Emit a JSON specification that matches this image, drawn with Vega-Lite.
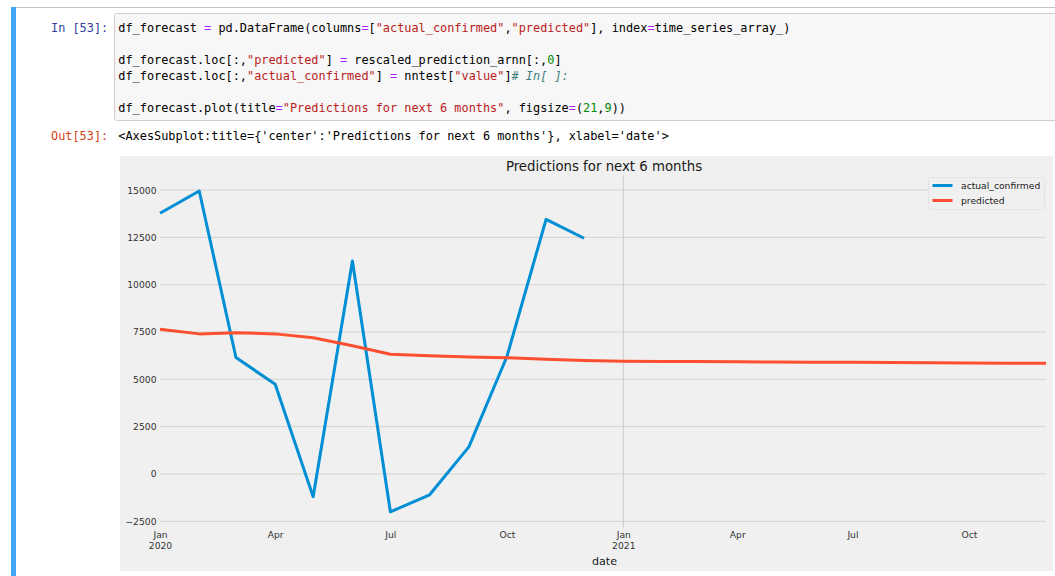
{
  "$schema": "https://vega.github.io/schema/vega-lite/v6.json",
  "background": "white",
  "autosize": {"type": "pad"},
  "padding": {"left": 10, "top": 6, "right": 0, "bottom": 0},
  "columns": 1,
  "spacing": 36,
  "bounds": "flush",
  "center": true,
  "resolve": {"scale": {"x": "independent", "y": "independent", "color": "independent"}, "legend": {"color": "independent"}},
  "config": {"font": "DejaVu Sans"},
  "datasets": {
    "code": [
      {"line": 0, "col": -9.41, "text": "In [53]:", "kind": "in"},
      {"line": 0, "col": 0, "text": "df_forecast", "kind": "plain"},
      {"line": 0, "col": 12, "text": "=", "kind": "op"},
      {"line": 0, "col": 14, "text": "pd.DataFrame(columns", "kind": "plain"},
      {"line": 0, "col": 34, "text": "=", "kind": "op"},
      {"line": 0, "col": 35, "text": "[", "kind": "plain"},
      {"line": 0, "col": 36, "text": "\"actual_confirmed\"", "kind": "str"},
      {"line": 0, "col": 54, "text": ",", "kind": "plain"},
      {"line": 0, "col": 55, "text": "\"predicted\"", "kind": "str"},
      {"line": 0, "col": 66, "text": "], index", "kind": "plain"},
      {"line": 0, "col": 74, "text": "=", "kind": "op"},
      {"line": 0, "col": 75, "text": "time_series_array_)", "kind": "plain"},
      {"line": 2, "col": 0, "text": "df_forecast.loc[:,", "kind": "plain"},
      {"line": 2, "col": 18, "text": "\"predicted\"", "kind": "str"},
      {"line": 2, "col": 29, "text": "]", "kind": "plain"},
      {"line": 2, "col": 31, "text": "=", "kind": "op"},
      {"line": 2, "col": 33, "text": "rescaled_prediction_arnn[:,", "kind": "plain"},
      {"line": 2, "col": 60, "text": "0", "kind": "num"},
      {"line": 2, "col": 61, "text": "]", "kind": "plain"},
      {"line": 3, "col": 0, "text": "df_forecast.loc[:,", "kind": "plain"},
      {"line": 3, "col": 18, "text": "\"actual_confirmed\"", "kind": "str"},
      {"line": 3, "col": 36, "text": "]", "kind": "plain"},
      {"line": 3, "col": 38, "text": "=", "kind": "op"},
      {"line": 3, "col": 40, "text": "nntest[", "kind": "plain"},
      {"line": 3, "col": 47, "text": "\"value\"", "kind": "str"},
      {"line": 3, "col": 54, "text": "]", "kind": "plain"},
      {"line": 3, "col": 55, "text": "# In[ ]:", "kind": "comment"},
      {"line": 5, "col": 0, "text": "df_forecast.plot(title", "kind": "plain"},
      {"line": 5, "col": 22, "text": "=", "kind": "op"},
      {"line": 5, "col": 23, "text": "\"Predictions for next 6 months\"", "kind": "str"},
      {"line": 5, "col": 54, "text": ",", "kind": "plain"},
      {"line": 5, "col": 56, "text": "figsize", "kind": "plain"},
      {"line": 5, "col": 63, "text": "=", "kind": "op"},
      {"line": 5, "col": 64, "text": "(", "kind": "plain"},
      {"line": 5, "col": 65, "text": "21", "kind": "num"},
      {"line": 5, "col": 67, "text": ",", "kind": "plain"},
      {"line": 5, "col": 68, "text": "9", "kind": "num"},
      {"line": 5, "col": 69, "text": "))", "kind": "plain"},
      {"line": 6.706, "col": -9.41, "text": "Out[53]:", "kind": "out"},
      {"line": 6.706, "col": 0, "text": "<AxesSubplot:title={'center':'Predictions for next 6 months'}, xlabel='date'>", "kind": "plain"}
    ],
    "forecast": [
      {"date": "2020-01-01", "series": "actual_confirmed", "value": 13770},
      {"date": "2020-02-01", "series": "actual_confirmed", "value": 14950},
      {"date": "2020-03-01", "series": "actual_confirmed", "value": 6150},
      {"date": "2020-04-01", "series": "actual_confirmed", "value": 4740},
      {"date": "2020-05-01", "series": "actual_confirmed", "value": -1200},
      {"date": "2020-06-01", "series": "actual_confirmed", "value": 11250},
      {"date": "2020-07-01", "series": "actual_confirmed", "value": -2000},
      {"date": "2020-08-01", "series": "actual_confirmed", "value": -1100},
      {"date": "2020-09-01", "series": "actual_confirmed", "value": 1430},
      {"date": "2020-10-01", "series": "actual_confirmed", "value": 6190},
      {"date": "2020-11-01", "series": "actual_confirmed", "value": 13450},
      {"date": "2020-12-01", "series": "actual_confirmed", "value": 12450},
      {"date": "2020-01-01", "series": "predicted", "value": 7640},
      {"date": "2020-02-01", "series": "predicted", "value": 7400},
      {"date": "2020-03-01", "series": "predicted", "value": 7460},
      {"date": "2020-04-01", "series": "predicted", "value": 7400},
      {"date": "2020-05-01", "series": "predicted", "value": 7200},
      {"date": "2020-06-01", "series": "predicted", "value": 6770},
      {"date": "2020-07-01", "series": "predicted", "value": 6320},
      {"date": "2020-08-01", "series": "predicted", "value": 6250},
      {"date": "2020-09-01", "series": "predicted", "value": 6180},
      {"date": "2020-10-01", "series": "predicted", "value": 6140},
      {"date": "2020-11-01", "series": "predicted", "value": 6060},
      {"date": "2020-12-01", "series": "predicted", "value": 6000},
      {"date": "2021-01-01", "series": "predicted", "value": 5955},
      {"date": "2021-02-01", "series": "predicted", "value": 5945},
      {"date": "2021-03-01", "series": "predicted", "value": 5935},
      {"date": "2021-04-01", "series": "predicted", "value": 5925},
      {"date": "2021-05-01", "series": "predicted", "value": 5915},
      {"date": "2021-06-01", "series": "predicted", "value": 5905},
      {"date": "2021-07-01", "series": "predicted", "value": 5895},
      {"date": "2021-08-01", "series": "predicted", "value": 5885},
      {"date": "2021-09-01", "series": "predicted", "value": 5875},
      {"date": "2021-10-01", "series": "predicted", "value": 5865},
      {"date": "2021-11-01", "series": "predicted", "value": 5855},
      {"date": "2021-12-01", "series": "predicted", "value": 5847}
    ]
  },
  "concat": [
    {
      "width": 945,
      "height": 107,
      "view": {"fill": "#f7f7f7", "stroke": "#cfcfcf", "cornerRadius": 2},
      "layer": [
        {
          "data": {"values": [{}]},
          "mark": {"type": "rect", "color": "#42a5f5"},
          "encoding": {
            "x": {"datum": -15.007, "type": "quantitative", "axis": null, "scale": {"domain": [-0.601, 131.57], "nice": false, "zero": false}},
            "x2": {"datum": -14.308},
            "y": {"datum": -1.278, "type": "quantitative", "axis": null, "scale": {"domain": [-0.906, 5.732], "nice": false, "zero": false, "reverse": true}},
            "y2": {"datum": 34.05}
          }
        },
        {
          "data": {"values": [{}]},
          "mark": {"type": "rule", "color": "#c4c4c4", "strokeWidth": 1},
          "encoding": {
            "x": {"datum": -14.308, "type": "quantitative", "axis": null, "scale": {"domain": [-0.601, 131.57], "nice": false, "zero": false}},
            "x2": {"datum": 131.57},
            "y": {"datum": -1.247, "type": "quantitative", "axis": null, "scale": {"domain": [-0.906, 5.732], "nice": false, "zero": false, "reverse": true}}
          }
        },
        {
          "data": {"name": "code"},
          "transform": [{"filter": "datum.kind != 'comment'"}],
          "mark": {"type": "text", "align": "left", "baseline": "middle", "font": "DejaVu Sans Mono", "fontSize": 11.88},
          "encoding": {
            "x": {"field": "col", "type": "quantitative", "axis": null, "scale": {"domain": [-0.601, 131.57], "nice": false, "zero": false}},
            "y": {"field": "line", "type": "quantitative", "axis": null, "scale": {"domain": [-0.906, 5.732], "nice": false, "zero": false, "reverse": true}},
            "text": {"field": "text"},
            "color": {"field": "kind", "type": "nominal", "legend": null,
              "scale": {"domain": ["plain", "op", "str", "num", "comment", "in", "out"], "range": ["#000000", "#aa22ff", "#ba2121", "#008800", "#408080", "#303f9f", "#d84315"]}}
          }
        },
        {
          "data": {"name": "code"},
          "transform": [{"filter": "datum.kind == 'comment'"}],
          "mark": {"type": "text", "align": "left", "baseline": "middle", "font": "DejaVu Sans Mono", "fontSize": 11.88, "fontStyle": "italic", "color": "#408080"},
          "encoding": {
            "x": {"field": "col", "type": "quantitative", "axis": null, "scale": {"domain": [-0.601, 131.57], "nice": false, "zero": false}},
            "y": {"field": "line", "type": "quantitative", "axis": null, "scale": {"domain": [-0.906, 5.732], "nice": false, "zero": false, "reverse": true}},
            "text": {"field": "text"}
          }
        }
      ]
    },
    {
      "width": 933,
      "height": 415,
      "view": {"fill": "#f0f0f0", "stroke": null},
      "title": {"text": "Predictions for next 6 months", "anchor": "middle", "frame": "group", "dx": 17.5, "offset": -17, "font": "DejaVu Sans", "fontSize": 13.3, "fontWeight": "normal", "color": "#1a1a1a"},
      "layer": [
        {
          "data": {"values": [{"g": -2500}, {"g": 0}, {"g": 2500}, {"g": 5000}, {"g": 7500}, {"g": 10000}, {"g": 12500}, {"g": 15000}]},
          "mark": {"type": "rule", "color": "#d3d3d3", "strokeWidth": 1},
          "encoding": {
            "x": {"datum": {"year": 2020, "month": 1, "date": 1, "utc": true}, "type": "temporal"},
            "x2": {"datum": {"year": 2021, "month": 12, "date": 1, "utc": true}},
            "y": {"field": "g", "type": "quantitative"}
          }
        },
        {
          "data": {"values": [{}]},
          "mark": {"type": "rule", "color": "#cbcbcb", "strokeWidth": 1},
          "encoding": {
            "x": {"datum": {"year": 2021, "month": 1, "date": 1, "utc": true}, "type": "temporal"},
            "y": {"datum": -2830, "type": "quantitative"},
            "y2": {"datum": 15796}
          }
        },
        {
          "data": {"name": "forecast"},
          "mark": {"type": "line", "strokeWidth": 3, "strokeJoin": "round"},
          "encoding": {
            "x": {"field": "date", "type": "temporal",
              "scale": {"type": "utc", "nice": false, "domain": [{"year": 2019, "month": 11, "date": 30, "hours": 9, "minutes": 36, "utc": true}, {"year": 2021, "month": 12, "date": 6, "hours": 10, "minutes": 48, "utc": true}]},
              "axis": {
                "values": [
                  {"year": 2020, "month": 1, "date": 1, "utc": true},
                  {"year": 2020, "month": 4, "date": 1, "utc": true},
                  {"year": 2020, "month": 7, "date": 1, "utc": true},
                  {"year": 2020, "month": 10, "date": 1, "utc": true},
                  {"year": 2021, "month": 1, "date": 1, "utc": true},
                  {"year": 2021, "month": 4, "date": 1, "utc": true},
                  {"year": 2021, "month": 7, "date": 1, "utc": true},
                  {"year": 2021, "month": 10, "date": 1, "utc": true}
                ],
                "labelExpr": "utcmonth(datum.value) == 0 ? [utcFormat(datum.value, '%b'), utcFormat(datum.value, '%Y')] : utcFormat(datum.value, '%b')",
                "grid": false, "domain": false, "ticks": false, "tickSize": 0,
                "offset": -43.3, "labelPadding": 3, "labelFlush": false, "labelOverlap": false,
                "labelFont": "DejaVu Sans", "labelFontSize": 9.2, "labelColor": "#333333", "labelLineHeight": 10.5,
                "title": "date", "titleFont": "DejaVu Sans", "titleFontSize": 11.1, "titleFontWeight": "normal", "titleColor": "#1a1a1a",
                "titleX": 484, "titleY": 33.8, "titleBaseline": "middle", "titleAlign": "center"
              }
            },
            "y": {"field": "value", "type": "quantitative",
              "scale": {"domain": [-5125, 16796], "nice": false, "zero": false},
              "axis": {
                "values": [-2500, 0, 2500, 5000, 7500, 10000, 12500, 15000],
                "format": "d", "grid": false, "domain": false, "ticks": false, "tickSize": 0,
                "offset": -40, "labelPadding": 4, "labelOverlap": false,
                "labelFont": "DejaVu Sans", "labelFontSize": 9.2, "labelColor": "#333333",
                "title": null
              }
            },
            "color": {"field": "series", "type": "nominal",
              "scale": {"domain": ["actual_confirmed", "predicted"], "range": ["#008fd5", "#fc4f30"]},
              "legend": {"orient": "none", "legendX": 808, "legendY": 21, "title": null,
                "symbolType": "stroke", "symbolSize": 400, "symbolStrokeWidth": 3,
                "labelFont": "DejaVu Sans", "labelFontSize": 9.2, "labelColor": "#1a1a1a", "labelOffset": 7,
                "padding": 3, "rowPadding": 4, "clipHeight": 11,
                "fillColor": "#f0f0f0", "strokeColor": "#e4e4e4", "cornerRadius": 2}
            }
          }
        }
      ]
    }
  ]
}
